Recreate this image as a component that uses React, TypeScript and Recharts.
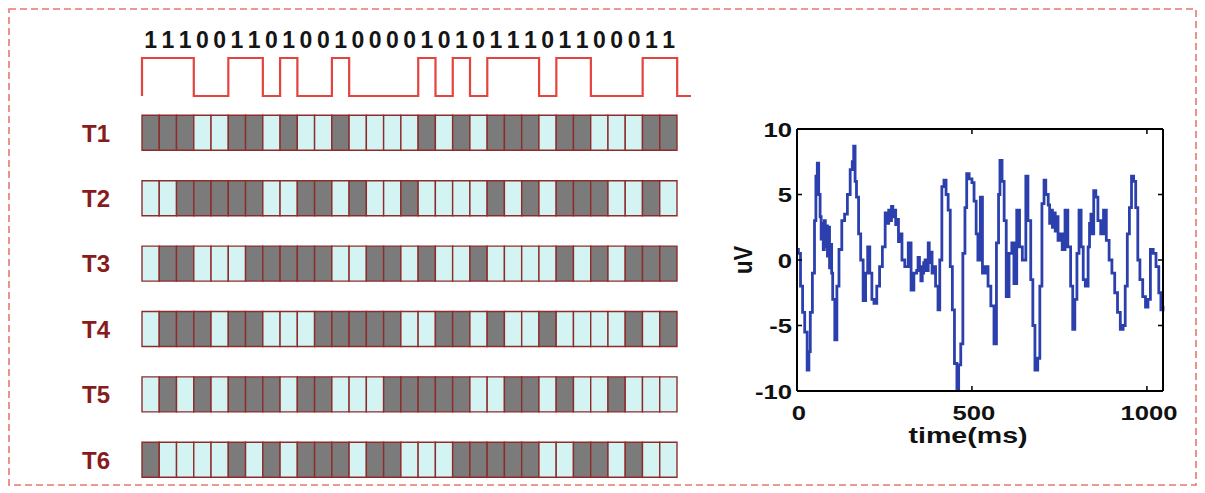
import React from 'react';
import { LineChart, Line, BarChart, Bar, Cell, XAxis, YAxis, Label } from 'recharts';

// ---- data ----
const CODE_BITS = [1,1,1,0,0,1,1,0,1,0,0,1,0,0,0,0,1,0,1,0,1,1,1,0,1,1,0,0,0,1,1];
const ROW_LABELS = ['T1', 'T2', 'T3', 'T4', 'T5', 'T6'];
const T1_BITS = [1,1,1,0,0,1,1,0,1,0,0,1,0,0,0,0,1,0,1,0,1,1,1,0,1,1,0,0,0,1,1];
const T2_BITS = [0,0,1,1,1,1,1,0,0,1,1,0,1,0,0,1,0,0,0,0,1,0,1,0,1,1,1,0,0,1,0];
const T3_BITS = [0,1,1,0,0,0,1,1,1,1,1,0,0,1,1,0,1,0,0,1,0,0,0,0,1,0,1,0,1,1,1];
const T4_BITS = [0,1,1,1,0,1,1,0,0,0,1,1,1,1,1,0,0,1,1,0,1,0,0,1,0,0,0,0,1,0,1];
const T5_BITS = [0,1,0,1,0,1,1,1,0,1,1,0,0,0,1,1,1,1,1,0,0,1,1,0,1,0,0,1,0,0,0];
const T6_BITS = [1,0,0,0,0,1,0,1,0,1,1,1,0,1,1,0,0,0,1,1,1,1,1,0,0,1,1,0,1,0,0];
const ROW_BITS = [T1_BITS, T2_BITS, T3_BITS, T4_BITS, T5_BITS, T6_BITS];

const EEG_TIME = [
  0,4,10,16,22,29,34,38,44,50,
  54,58,62,66,69,72,75,78,81,84,
  87,90,93,96,99,102,108,114,120,128,
  136,144,152,158,162,166,170,176,182,189,
  196,202,208,214,220,228,236,244,252,257,
  262,266,270,274,278,282,286,290,294,300,
  308,318,326,334,342,346,350,354,358,362,
  366,370,375,378,382,386,390,396,403,408,
  414,420,426,432,438,444,450,457,462,468,
  474,480,485,492,500,506,512,517,524,530,
  538,546,554,563,570,576,580,586,592,598,
  606,614,620,628,636,644,654,660,668,674,
  680,688,694,700,706,711,718,722,726,730,
  734,738,742,746,750,758,766,774,782,788,
  794,800,806,812,818,824,832,836,840,844,
  848,854,860,868,876,884,892,900,908,916,
  924,932,938,944,950,956,962,968,974,980,
  988,996,1003,1010,1018,1026,1034,1040,1046,
];
const EEG_UV = [
  0.8,0.5,-2,-4,-5.5,-8.4,-7,-4,-1,3,
  6.4,7.4,5,3.3,1.6,2.8,0.8,3,1,2.6,
  0.3,2.5,-0.6,1.2,-1,-3,-6.1,-2,0.8,3,
  3.5,5,6.9,7.5,8.7,6,4.8,2,0,-3.1,
  -1,1,-1,-3,-3.3,-2,-0.5,1,3.6,2.8,
  3.8,3,4.1,3.3,3.8,2.7,3.1,1.4,2,0,
  -0.5,1.3,-2.3,-1,-0.8,0.2,-0.5,-1.6,-1,-0.2,
  0,-0.8,1.3,-0.2,0.6,-1,-0.5,-2,-3.8,0,
  5.6,6.1,5,3.8,-0.5,-3.8,-7.9,-9.9,-8,-6.4,
  0.5,4,6.6,6.2,5.9,4.5,2,0,4.8,-1,
  -0.5,-2,-3.5,-6.4,1.3,5,7.6,6,3,-2.8,
  0.5,1.3,-1.8,3.8,1,0,6.4,3,-1.5,-5,
  -8.4,-7.5,-2,4.3,6.1,5,4.2,2.8,3.8,2.5,
  3.6,2.2,3.3,1.5,2,0.8,3.8,1,-2,-5.3,
  -3,0.5,3.8,1,-1.5,-2,1,2.8,3.5,2,
  5.3,4.8,3,2,3.8,1.5,0,-1,-2.5,-4,
  -5.3,-5,-2,2,4,6.4,6,4,0,-1.5,
  -2.8,-3.6,-3,0.8,0.5,-0.5,-2.5,-3.8,-3.5,
];
const EEG_X_TICKS = [0, 500, 1000];
const EEG_Y_TICKS = [-10, -5, 0, 5, 10];

// ---- styles ----
const FONT = '"Liberation Sans", Arial, sans-serif';
const DARK = '#7b7b7b';
const LIGHT = '#d4f4f4';
const CELL_STROKE = '#8e2c2c';
const WAVE_RED = '#e2443f';
const EEG_BLUE = '#2c40ad';
const LABEL_RED = '#861c1c';

const N = CODE_BITS.length;

const waveData = [
  { x: 0, v: 0 },
  ...CODE_BITS.map((b, i) => ({ x: i, v: b })),
  { x: N, v: 0 },
  { x: N + 0.8, v: 0 },
];
const bitTicks = CODE_BITS.map((_, i) => i + 0.5);

const rowData = ROW_LABELS.map((name) => {
  const o: Record<string, any> = { name };
  CODE_BITS.forEach((_, i) => { o['c' + i] = 1; });
  return o;
});

const eegData = EEG_TIME.map((t, i) => ({ t, uv: EEG_UV[i] }));

const SX = 1.22;

const LeftTick = (props: any) => {
  const { x, y, payload } = props;
  return (
    <g>
      <line x1={x} y1={y} x2={x + 5} y2={y} stroke="#000" strokeWidth={1.5} />
      <text transform={`translate(${x - 5},${y + 7.5}) scale(${SX},1)`} textAnchor="end"
        fontFamily={FONT} fontWeight="bold" fontSize={21} fill="#111">{payload.value}</text>
    </g>
  );
};
const BottomTick = (props: any) => {
  const { x, y, payload } = props;
  return (
    <g>
      <line x1={x} y1={y} x2={x} y2={y - 5} stroke="#000" strokeWidth={1.5} />
      <text transform={`translate(${x + 2},${y + 29}) scale(${SX},1)`} textAnchor="middle"
        fontFamily={FONT} fontWeight="bold" fontSize={21} fill="#111">{payload.value}</text>
    </g>
  );
};
const TopTick = (props: any) => {
  const { x, y } = props;
  return <line x1={x} y1={y} x2={x} y2={y + 5} stroke="#000" strokeWidth={1.5} />;
};
const RightTick = (props: any) => {
  const { x, y } = props;
  return <line x1={x} y1={y} x2={x - 5} y2={y} stroke="#000" strokeWidth={1.5} />;
};

export default function App() {
  return (
    <div style={{ position: 'absolute', left: 0, top: 0, width: 1205, height: 493, background: '#fff', overflow: 'hidden' }}>
      <svg width={1205} height={493} style={{ position: 'absolute', left: 0, top: 0 }}>
        <rect x={9} y={9} width={1187} height={476} fill="none" stroke="#e7786e" strokeWidth={1.6} strokeDasharray="7 4" />
      </svg>

      {/* code waveform with bit labels */}
      <div style={{ position: 'absolute', left: 100, top: 0 }}>
        <LineChart width={620} height={110} data={waveData} margin={{ top: 0, right: 29, bottom: 14, left: 42 }}>
          <XAxis dataKey="x" type="number" orientation="top" domain={[0, N + 0.8]} ticks={bitTicks} interval={0}
            height={58} tickLine={false} axisLine={false} tickSize={0} tickMargin={10}
            tickFormatter={(v: number) => String(CODE_BITS[Math.floor(v)])}
            tick={{ fill: '#151515', fontSize: 23, fontWeight: 'bold', fontFamily: FONT }} />
          <YAxis hide domain={[0, 1]} />
          <Line type="stepAfter" dataKey="v" stroke={WAVE_RED} strokeWidth={2.2} dot={false} isAnimationActive={false} />
        </LineChart>
      </div>

      {/* T1..T6 rows */}
      <div style={{ position: 'absolute', left: 0, top: 95 }}>
        <BarChart width={700} height={398} data={rowData} layout="vertical" barSize={35}
          margin={{ top: 5.3, right: 23, bottom: 0.3, left: 42 }}>
          <XAxis type="number" domain={[0, N]} hide />
          <YAxis type="category" dataKey="name" width={100} tickLine={false} axisLine={false} tickSize={0} tickMargin={32}
            tick={{ fill: LABEL_RED, fontSize: 24, fontWeight: 'bold', fontFamily: FONT }} />
          {CODE_BITS.map((_, i) => (
            <Bar key={i} dataKey={'c' + i} stackId="s" stroke={CELL_STROKE} strokeWidth={1.4} isAnimationActive={false}>
              {ROW_BITS.map((bits, r) => (
                <Cell key={r} fill={bits[i] ? DARK : LIGHT} />
              ))}
            </Bar>
          ))}
        </BarChart>
      </div>

      {/* EEG trace */}
      <div style={{ position: 'absolute', left: 700, top: 100 }}>
        <LineChart width={505} height={393} data={eegData} margin={{ top: 28, right: 41, bottom: 42, left: 0 }}>
          <XAxis xAxisId="b" dataKey="t" type="number" domain={[0, 1046]} ticks={EEG_X_TICKS} interval={0}
            height={60} tickSize={0} tickMargin={0} tickLine={false} tick={<BottomTick />}
            axisLine={{ stroke: '#000', strokeWidth: 2 }}>
            <Label content={(p: any) => {
              const vb = p.viewBox;
              const cx = vb.x + vb.width / 2 - 12;
              return (
                <text transform={`translate(${cx},${vb.y + 52}) scale(1.3,1)`} textAnchor="middle"
                  fontFamily={FONT} fontWeight="bold" fontSize={22} fill="#111">time(ms)</text>
              );
            }} />
          </XAxis>
          <XAxis xAxisId="t" dataKey="t" type="number" orientation="top" domain={[0, 1046]} ticks={EEG_X_TICKS} interval={0}
            height={1} tickSize={0} tickMargin={0} tickLine={false} tick={<TopTick />}
            axisLine={{ stroke: '#000', strokeWidth: 2 }} />
          <YAxis yAxisId="l" type="number" domain={[-10, 10]} ticks={EEG_Y_TICKS} interval={0} width={97}
            tickSize={0} tickMargin={0} tickLine={false} tick={<LeftTick />}
            axisLine={{ stroke: '#000', strokeWidth: 2 }}>
            <Label content={(p: any) => {
              const vb = p.viewBox;
              const cx = vb.x + 52;
              const cy = vb.y + vb.height / 2;
              return (
                <text transform={`translate(${cx},${cy}) rotate(-90) scale(1,1.15)`} textAnchor="middle"
                  fontFamily={FONT} fontWeight="bold" fontSize={22} fill="#111">uV</text>
              );
            }} />
          </YAxis>
          <YAxis yAxisId="r" orientation="right" type="number" domain={[-10, 10]} ticks={EEG_Y_TICKS} interval={0} width={1}
            tickSize={0} tickMargin={0} tickLine={false} tick={<RightTick />}
            axisLine={{ stroke: '#000', strokeWidth: 2 }} />
          <Line xAxisId="t" yAxisId="r" type="linear" dataKey="uv" stroke="none" dot={false} isAnimationActive={false} />
          <Line xAxisId="b" yAxisId="l" type="stepAfter" dataKey="uv" stroke={EEG_BLUE} strokeWidth={2.8} dot={false} isAnimationActive={false} />
        </LineChart>
      </div>
    </div>
  );
}
